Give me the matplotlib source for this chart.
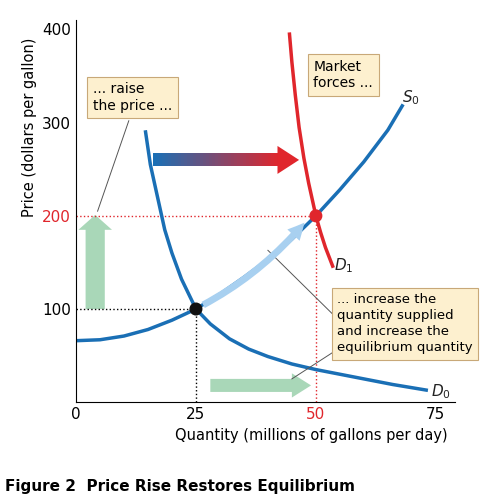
import matplotlib
matplotlib.use("Agg")
import matplotlib.pyplot as plt
import numpy as np
from matplotlib.patches import FancyArrow

s0_x = [0, 5, 10, 15, 20, 25, 30, 35, 40, 45, 50, 55, 60, 65, 68]
s0_y = [66, 67, 71, 78, 88, 100, 116, 134, 153, 175, 200, 228, 258, 292, 318]
d0_x = [14.5, 15.5, 17, 18.5, 20, 22, 25, 28, 32, 36, 40, 45, 50, 55, 60, 66, 73]
d0_y = [290, 255, 220, 185, 160, 132, 100, 84, 68, 57, 49, 41, 35, 30, 25, 19, 13]
d1_x = [44.5, 45, 45.7, 46.5, 47.5, 48.5, 50, 51, 52, 53.5]
d1_y = [395, 365, 330, 295, 262, 235, 200, 182, 166, 146]
eq_q = [25, 50]
eq_p = [100, 200]
x_ticks = [0, 25, 50, 75]
y_ticks = [100, 200, 300, 400]

blue = "#1a6fb5"
red = "#e0262c"
green = "#a9d7b8"
box_fc = "#fdf0cf"
box_ec = "#c8a878"

fig = plt.figure(figsize=(5, 5.04), dpi=100)
ax = fig.add_axes([0.152, 0.202, 0.758, 0.758])
ax.set_xlim(0, 79)
ax.set_ylim(0, 410)
for s in ["top", "right"]:
    ax.spines[s].set_visible(False)

ax.plot([0, eq_q[0]], [eq_p[0]] * 2, ls=":", color="k", lw=1)
ax.plot([eq_q[0]] * 2, [0, eq_p[0]], ls=":", color="k", lw=1)
ax.plot([0, eq_q[1]], [eq_p[1]] * 2, ls=":", color=red, lw=1)
ax.plot([eq_q[1]] * 2, [0, eq_p[1]], ls=":", color=red, lw=1)

ax.plot(s0_x, s0_y, color=blue, lw=2.5, solid_joinstyle="round")
ax.plot(d0_x, d0_y, color=blue, lw=2.5, solid_joinstyle="round")
ax.plot(d1_x, d1_y, color=red, lw=2.5, solid_joinstyle="round")

ax.add_patch(FancyArrow(4, 100, 0, 85, width=4, head_width=7, head_length=16, color=green, lw=0))
ax.add_patch(FancyArrow(28, 18, 17, 0, width=14, head_width=26, head_length=4, color=green, lw=0))
ax.annotate("", xy=(48, 195), xytext=(26, 103),
            arrowprops=dict(arrowstyle="simple,head_width=1.2,head_length=1.2,tail_width=0.5",
                            color="#a8d0f0", lw=0, connectionstyle="arc3,rad=0.1"))
n = 40
xs = np.linspace(16, 42, n + 1)
c0 = np.array(matplotlib.colors.to_rgb(blue)); c1 = np.array(matplotlib.colors.to_rgb(red))
for i in range(n):
    ax.fill_between([xs[i], xs[i + 1] + 0.05], 253, 267, color=c0 + (c1 - c0) * i / n, lw=0)
ax.fill([42, 42, 46.5], [245, 275, 260], color=red, lw=0)

ax.scatter(eq_q, eq_p, s=70, color=["#111111", red], zorder=5)

ax.text(68, 322, "$S_0$", fontsize=11, color="#222")
ax.text(74, 6, "$D_0$", fontsize=11, color="#222")
ax.text(53.8, 142, "$D_1$", fontsize=11, color="#222")

bb = dict(boxstyle="square,pad=0.4", fc=box_fc, ec=box_ec, lw=0.8)
ax.text(3.5, 327, "... raise\nthe price ...", fontsize=10, va="center", bbox=bb)
ax.plot([11, 4.5], [302, 205], color="#555", lw=0.7)
ax.text(49.5, 351, "Market\nforces ...", fontsize=10, va="center", bbox=bb)
ax.text(54.5, 84, "... increase the\nquantity supplied\nand increase the\nequilibrium quantity",
        fontsize=9.5, va="center", bbox=bb, linespacing=1.3, clip_on=False)
ax.plot([54, 40], [92, 163], color="#555", lw=0.7)
ax.plot([54, 45], [55, 25], color="#555", lw=0.7)

ax.set_xticks(x_ticks)
ax.set_yticks(y_ticks)
ax.tick_params(length=0, labelsize=11)
for lbl in ax.get_xticklabels():
    if lbl.get_text() == "50": lbl.set_color(red)
for lbl in ax.get_yticklabels():
    if lbl.get_text() == "200": lbl.set_color(red)
ax.set_xlabel("Quantity (millions of gallons per day)", fontsize=10.5, x=0.62)
ax.set_ylabel("Price (dollars per gallon)", fontsize=10.5, y=0.72)
fig.text(0.01, 0.025, "Figure 2  Price Rise Restores Equilibrium", fontsize=11, weight="bold")
fig.savefig("out.png", dpi=100)
